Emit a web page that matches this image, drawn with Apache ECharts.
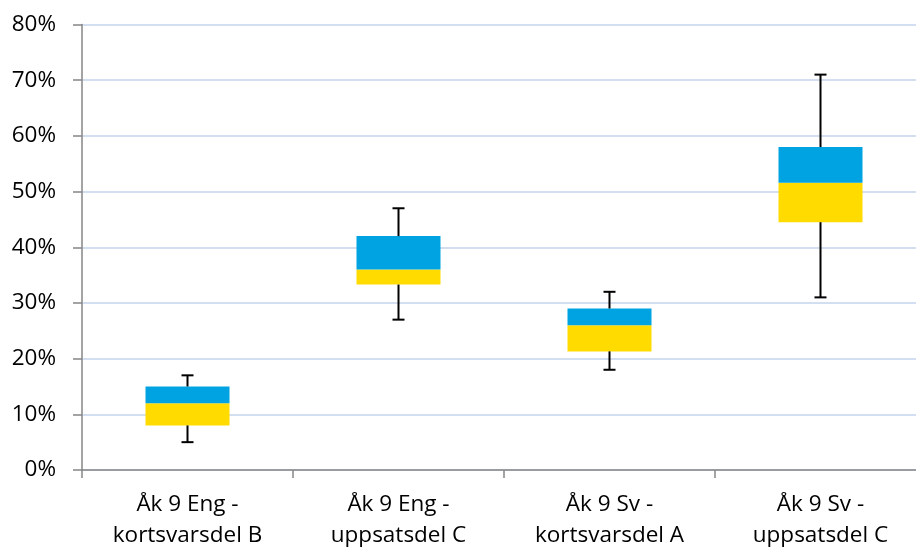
<!DOCTYPE html>
<html>
<head>
<meta charset="utf-8">
<script src="https://cdn.jsdelivr.net/npm/echarts@6/dist/echarts.min.js"></script>
<style>html,body{margin:0;padding:0;background:#fff;overflow:hidden}#c{width:927px;height:551px}</style>
</head>
<body>
<div id="c"></div>
<script>
const categories = ['Åk 9 Eng -\nkortsvarsdel B', 'Åk 9 Eng -\nuppsatsdel C', 'Åk 9 Sv -\nkortsvarsdel A', 'Åk 9 Sv -\nuppsatsdel C'];
const whiskerLow = [5, 27, 18, 31];
const q1 = [8, 33.3, 21.3, 44.5];
const median = [12, 36, 26, 51.6];
const q3 = [15, 42, 29, 58];
const whiskerHigh = [17, 47, 32, 71];
const yTicks = [0, 10, 20, 30, 40, 50, 60, 70, 80];

const lowerPart = median.map((m, i) => +(m - q1[i]).toFixed(2));
const upperPart = q3.map((v, i) => +(v - median[i]).toFixed(2));
const whiskerData = categories.map((c, i) => [i, whiskerLow[i], q1[i], q3[i], whiskerHigh[i]]);

const font = 'Open Sans';
const chart = echarts.init(document.getElementById('c'));
chart.setOption({
  animation: false,
  grid: { left: 82, right: 1, top: 24.5, height: 448 },
  xAxis: {
    type: 'category',
    data: categories,
    axisLine: { show: true, lineStyle: { color: '#868686', width: 1.5 } },
    axisTick: { show: true, length: 8, lineStyle: { color: '#868686', width: 1.5 } },
    axisLabel: { color: '#000', fontFamily: font, fontSize: 22.5, lineHeight: 31, margin: 19, interval: 0 }
  },
  yAxis: {
    type: 'value',
    min: yTicks[0],
    max: yTicks[yTicks.length - 1],
    interval: 10,
    axisLine: { show: true, lineStyle: { color: '#868686', width: 1.5 } },
    axisTick: { show: true, length: 9, lineStyle: { color: '#868686', width: 1.5 } },
    axisLabel: { color: '#000', fontFamily: font, fontSize: 22.5, margin: 26, formatter: '{value}%' },
    splitLine: { show: true, lineStyle: { color: '#C5D4EC', width: 1.5 } }
  },
  series: [
    { type: 'bar', stack: 'box', data: q1, barWidth: 84, itemStyle: { color: 'transparent' }, silent: true },
    { type: 'bar', stack: 'box', data: lowerPart, barWidth: 84, itemStyle: { color: '#FFDB00' } },
    { type: 'bar', stack: 'box', data: upperPart, barWidth: 84, itemStyle: { color: '#00A3E1' } },
    {
      type: 'custom',
      data: whiskerData,
      encode: { x: 0, y: [1, 2, 3, 4] },
      z: 5,
      renderItem: function (params, api) {
        const x = api.value(0);
        const pLow = api.coord([x, api.value(1)]);
        const pQ1 = api.coord([x, api.value(2)]);
        const pQ3 = api.coord([x, api.value(3)]);
        const pHigh = api.coord([x, api.value(4)]);
        const hw = 6;
        const style = { stroke: '#000', lineWidth: 2 };
        return {
          type: 'group',
          children: [
            { type: 'line', shape: { x1: pHigh[0], y1: pHigh[1], x2: pQ3[0], y2: pQ3[1] }, style: style },
            { type: 'line', shape: { x1: pQ1[0], y1: pQ1[1], x2: pLow[0], y2: pLow[1] }, style: style },
            { type: 'line', shape: { x1: pHigh[0] - hw, y1: pHigh[1], x2: pHigh[0] + hw, y2: pHigh[1] }, style: style },
            { type: 'line', shape: { x1: pLow[0] - hw, y1: pLow[1], x2: pLow[0] + hw, y2: pLow[1] }, style: style }
          ]
        };
      }
    }
  ]
});
</script>
</body>
</html>
